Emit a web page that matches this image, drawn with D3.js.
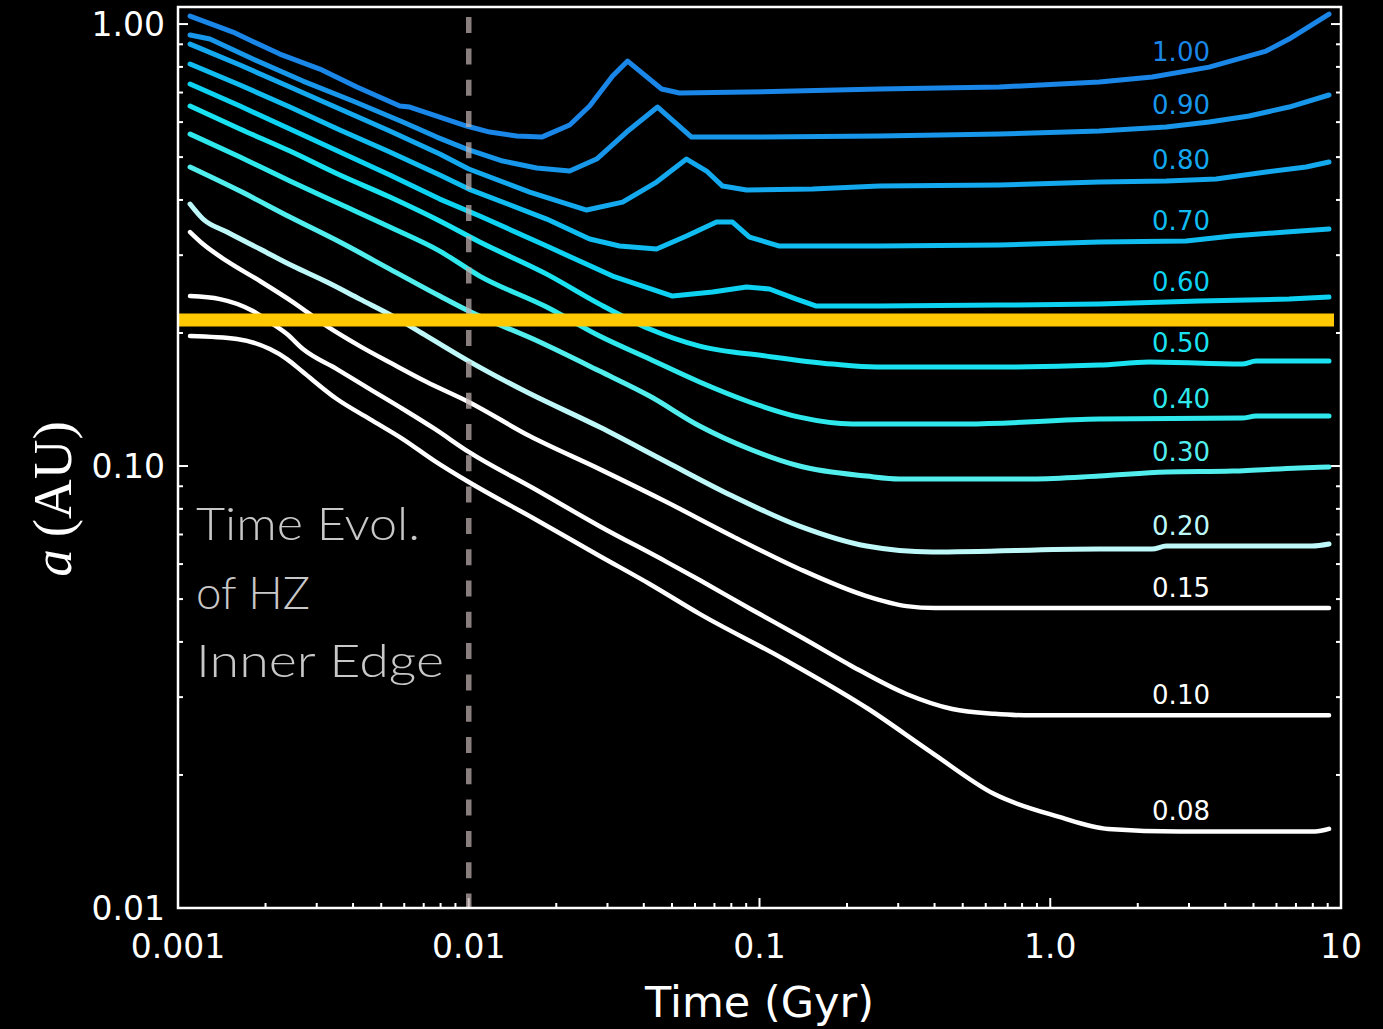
<!DOCTYPE html>
<html>
<head>
<meta charset="utf-8">
<script src="https://cdn.jsdelivr.net/npm/d3@7"></script>
<style>
  html, body { margin: 0; padding: 0; background: #000; }
  svg { display: block; }
</style>
</head>
<body>
<svg id="chart" width="1383" height="1029"></svg>
<script>
// Stellar mass (Msun) of each track, with its line colour
const stellarMasses = ["1.00", "0.90", "0.80", "0.70", "0.60", "0.50", "0.40", "0.30", "0.20", "0.15", "0.10", "0.08"];
const trackColors = ["#1a86e8", "#1796ea", "#14a8ee", "#10bcf0", "#0dd2f2", "#1ae2f0", "#2ee8ec", "#52eeee", "#bef8f8", "#ffffff", "#ffffff", "#ffffff"];

// Inner edge of the habitable zone, a (AU), against time (Gyr): [time, a]
const track100 = [[0.0011,1.0425],[0.001545,0.9592],[0.00224,0.8553],[0.003076,0.7910],[0.004122,0.7203],[0.005794,0.6525],[0.00627,0.6491],[0.00984,0.5879],[0.01181,0.5697],[0.01462,0.5579],[0.01782,0.5550],[0.02224,0.5910],[0.02605,0.6525],[0.03124,0.7627],[0.03519,0.8247],[0.04605,0.7129],[0.05309,0.6982],[0.09023,0.7018],[0.2585,0.7129],[0.6677,0.7203],[1.474,0.7392],[2.242,0.7587],[3.519,0.7990],[5.526,0.8688],[6.627,0.9248],[9.095,1.0535]];
const track090 = [[0.0011,0.9443],[0.001288,0.9248],[0.00181,0.8333],[0.00269,0.7431],[0.003994,0.6697],[0.005934,0.6003],[0.007763,0.5550],[0.00984,0.5214],[0.01309,0.4898],[0.01713,0.4723],[0.02224,0.4650],[0.02754,0.4950],[0.03491,0.5697],[0.04463,0.6491],[0.05838,0.5550],[0.1024,0.5550],[0.2585,0.5579],[0.6677,0.5638],[1.474,0.5727],[2.503,0.5848],[3.519,0.6003],[4.83,0.6194],[6.627,0.6491],[9.095,0.6910]];
const track080 = [[0.0011,0.9010],[0.001634,0.8080],[0.002426,0.7203],[0.003603,0.6424],[0.005352,0.5727],[0.00795,0.5080],[0.01,0.4699],[0.0162,0.4167],[0.02544,0.3795],[0.03382,0.3956],[0.04426,0.4391],[0.05611,0.4950],[0.06575,0.4650],[0.07464,0.4300],[0.09023,0.4211],[0.1521,0.4233],[0.2585,0.4300],[0.6677,0.4323],[1.474,0.4391],[2.503,0.4414],[3.719,0.4460],[5.526,0.4625],[7.581,0.4748],[9.095,0.4873]];
const track070 = [[0.0011,0.8122],[0.001634,0.7278],[0.002426,0.6491],[0.003603,0.5757],[0.005352,0.5133],[0.00795,0.4554],[0.01,0.4233],[0.01854,0.3621],[0.02605,0.3263],[0.03303,0.3146],[0.04426,0.3097],[0.05611,0.3314],[0.07116,0.3565],[0.08076,0.3565],[0.0924,0.3297],[0.1171,0.3146],[0.2585,0.3146],[0.6677,0.3162],[1.474,0.3212],[2.934,0.3228],[4.222,0.3314],[6.471,0.3384],[9.095,0.3437]];
const track060 = [[0.0011,0.7317],[0.001634,0.6525],[0.002426,0.5788],[0.003603,0.5133],[0.005352,0.4554],[0.00795,0.4018],[0.01091,0.3678],[0.01854,0.3146],[0.03124,0.2690],[0.05023,0.2424],[0.06895,0.2475],[0.09023,0.2541],[0.1082,0.2515],[0.134,0.2386],[0.157,0.2301],[0.2585,0.2301],[0.6677,0.2313],[1.474,0.2325],[3.251,0.2362],[6.627,0.2386],[9.095,0.2412]];
const track050 = [[0.0011,0.6525],[0.001634,0.5788],[0.002426,0.5160],[0.003603,0.4554],[0.005352,0.4060],[0.00795,0.3584],[0.01091,0.3212],[0.01854,0.2718],[0.02819,0.2325],[0.04188,0.2042],[0.06222,0.1868],[0.1057,0.1773],[0.1782,0.1701],[0.2525,0.1675],[0.6677,0.1675],[1.474,0.1692],[2.189,0.1719],[4.568,0.1701],[5.104,0.1728],[9.095,0.1728]];
const track040 = [[0.0011,0.5638],[0.001634,0.5001],[0.002426,0.4414],[0.003603,0.3915],[0.005352,0.3473],[0.00795,0.3064],[0.01091,0.2690],[0.01854,0.2289],[0.02819,0.1968],[0.04188,0.1746],[0.06222,0.1549],[0.0924,0.1396],[0.1372,0.1290],[0.2088,0.1245],[0.5144,0.1245],[1.474,0.1277],[4.568,0.1284],[5.104,0.1297],[9.095,0.1297]];
const track030 = [[0.0011,0.4748],[0.001634,0.4189],[0.002426,0.3659],[0.003603,0.3212],[0.005352,0.2790],[0.00795,0.2424],[0.01,0.2242],[0.01754,0.1908],[0.02819,0.1640],[0.04188,0.1440],[0.06222,0.1232],[0.0924,0.1093],[0.1372,0.1000],[0.2333,0.0949],[0.3028,0.0935],[0.8673,0.0935],[1.474,0.0949],[2.503,0.0969],[4.222,0.0974],[7.174,0.0990],[9.095,0.0995]];
const track020 = [[0.0011,0.3915],[0.001219,0.3621],[0.001474,0.3384],[0.001913,0.3097],[0.002484,0.2834],[0.003251,0.2608],[0.004221,0.2386],[0.005481,0.2184],[0.007173,0.1968],[0.01,0.1728],[0.01582,0.1470],[0.02819,0.1225],[0.0479,0.1021],[0.08076,0.0855],[0.1372,0.0731],[0.2333,0.0659],[0.3931,0.0639],[1.474,0.0649],[2.242,0.0649],[2.503,0.0659],[7.949,0.0659],[9.095,0.0666]];
const track015 = [[0.0011,0.3384],[0.001219,0.3179],[0.001474,0.2908],[0.001913,0.2622],[0.002484,0.2350],[0.003251,0.2073],[0.004221,0.1868],[0.005481,0.1701],[0.007173,0.1549],[0.01,0.1396],[0.0162,0.1169],[0.02819,0.0984],[0.0479,0.0829],[0.08076,0.0694],[0.1372,0.0585],[0.2333,0.0508],[0.3201,0.0482],[0.4025,0.0477],[9.095,0.0477]];
const track010 = [[0.0011,0.2424],[0.001394,0.2386],[0.00181,0.2242],[0.00207,0.2117],[0.00237,0.1989],[0.00269,0.1839],[0.003519,0.1657],[0.004568,0.1493],[0.005934,0.1346],[0.007643,0.1213],[0.01,0.1076],[0.01686,0.0887],[0.02819,0.0731],[0.0479,0.0607],[0.06222,0.0552],[0.09314,0.0475],[0.1428,0.0406],[0.2072,0.0353],[0.3201,0.0305],[0.4605,0.0282],[0.6422,0.0275],[0.8142,0.0273],[9.095,0.0273]];
const track008 = [[0.0011,0.1968],[0.001595,0.1938],[0.00207,0.1839],[0.00237,0.1746],[0.00269,0.1632],[0.003519,0.1418],[0.004568,0.1277],[0.005934,0.1151],[0.007643,0.1026],[0.01,0.0920],[0.01686,0.0759],[0.02819,0.0626],[0.04188,0.0541],[0.06222,0.0463],[0.1209,0.0366],[0.237,0.0282],[0.39,0.0225],[0.6422,0.0181],[1.065,0.0161],[1.582,0.0151],[2.797,0.0149],[8.141,0.0149],[9.095,0.0151]];
const tracks = [track100, track090, track080, track070, track060, track050, track040, track030, track020, track015, track010, track008];

// Axis ticks
const timeTicks = [0.001, 0.01, 0.1, 1, 10];
const timeTickLabels = ["0.001", "0.01", "0.1", "1.0", "10"];
const aTicks = [0.01, 0.1, 1];
const aTickLabels = ["0.01", "0.10", "1.00"];

// Marked epoch (Gyr) and present-day inner edge distance (AU)
const markedTime = 0.01;
const hzInnerEdge = 0.214;

// Annotation text
const noteLines = ["Time Evol.", "of HZ", "Inner Edge"];

(function draw() {
  const svg = d3.select("#chart");
  const W = 1383, H = 1029;
  svg.append("rect").attr("width", W).attr("height", H).attr("fill", "#000");

  const plotLeft = 178, plotRight = 1341, plotTop = 7, plotBottom = 908;
  const x = d3.scaleLog().domain([0.001, 10]).range([plotLeft, plotRight]);
  const y = d3.scaleLog().domain([0.01, 1.093]).range([plotBottom, plotTop]);

  const tickFont = "'DejaVu Sans', sans-serif";

  // Minor and major ticks, drawn inward
  const isMajor = v => Math.abs(Math.log10(v) - Math.round(Math.log10(v))) < 1e-9;
  const tickG = svg.append("g").attr("stroke", "#fff").attr("stroke-width", 2);
  x.ticks().forEach(v => {
    const len = isMajor(v) ? 10 : 5;
    tickG.append("line").attr("x1", x(v)).attr("x2", x(v)).attr("y1", plotBottom).attr("y2", plotBottom - len);
  });
  y.ticks().filter(v => v <= 1.093).forEach(v => {
    const len = isMajor(v) ? 10 : 5;
    tickG.append("line").attr("x1", plotLeft).attr("x2", plotLeft + len).attr("y1", y(v)).attr("y2", y(v));
    tickG.append("line").attr("x1", plotRight).attr("x2", plotRight - len).attr("y1", y(v)).attr("y2", y(v));
  });

  // Tick labels
  svg.append("g").selectAll("text").data(timeTicks).join("text")
    .attr("x", d => x(d)).attr("y", 958)
    .attr("text-anchor", "middle")
    .attr("font-family", tickFont).attr("font-size", 33).attr("fill", "#fff")
    .text((d, i) => timeTickLabels[i]);
  svg.append("g").selectAll("text").data(aTicks).join("text")
    .attr("x", 165).attr("y", d => y(d)).attr("dy", "0.36em")
    .attr("text-anchor", "end")
    .attr("font-family", tickFont).attr("font-size", 33).attr("fill", "#fff")
    .text((d, i) => aTickLabels[i]);

  // Axis titles
  svg.append("text")
    .attr("x", (plotLeft + plotRight) / 2).attr("y", 1017)
    .attr("text-anchor", "middle")
    .attr("font-family", tickFont).attr("font-size", 43).attr("fill", "#fff")
    .text("Time (Gyr)");
  const yTitle = svg.append("text")
    .attr("transform", "translate(71,499) rotate(-90)")
    .attr("text-anchor", "middle")
    .attr("font-family", "'Liberation Serif', 'DejaVu Serif', serif").attr("font-size", 55).attr("fill", "#fff");
  yTitle.append("tspan").attr("font-style", "italic").text("a");
  yTitle.append("tspan").attr("dx", 12).text("(AU)");

  // Tracks: sharp polylines for the upper masses, smoothed for the lower ones
  const sharpLine = d3.line().x(d => x(d[0])).y(d => y(d[1]));
  const smoothLine = d3.line().x(d => x(d[0])).y(d => y(d[1])).curve(d3.curveMonotoneX);
  svg.append("g").selectAll("path").data(tracks).join("path")
    .attr("d", (d, i) => i >= 5 ? smoothLine(d) : sharpLine(d))
    .attr("fill", "none")
    .attr("stroke", (d, i) => trackColors[i])
    .attr("stroke-width", (d, i) => i >= 9 ? 4.5 : 5)
    .attr("stroke-linejoin", "round")
    .attr("stroke-linecap", "round");

  // Value of a track at a given time, interpolated in log-log space
  function aAt(track, t) {
    const i = Math.max(1, Math.min(track.length - 1, d3.bisector(d => d[0]).left(track, t)));
    const [t0, a0] = track[i - 1], [t1, a1] = track[i];
    const f = (Math.log10(t) - Math.log10(t0)) / (Math.log10(t1) - Math.log10(t0));
    return Math.pow(10, Math.log10(a0) + f * (Math.log10(a1) - Math.log10(a0)));
  }

  // Mass labels just above each track
  const labelTime = 2.24, labelProbe = 2.8;
  svg.append("g").selectAll("text").data(tracks).join("text")
    .attr("x", x(labelTime))
    .attr("y", d => y(aAt(d, labelProbe)) - 11)
    .attr("font-family", tickFont).attr("font-size", 26)
    .attr("fill", (d, i) => trackColors[i])
    .text((d, i) => stellarMasses[i]);

  // Dashed marker at the chosen epoch
  svg.append("line")
    .attr("x1", x(markedTime)).attr("x2", x(markedTime))
    .attr("y1", y(1.037)).attr("y2", y(0.01))
    .attr("stroke", "rgb(190,176,176)").attr("stroke-opacity", 0.72)
    .attr("stroke-width", 5.5)
    .attr("stroke-dasharray", "16,15.3");

  // Present-day inner edge
  svg.append("line")
    .attr("x1", x(0.001) - 1).attr("x2", x(9.46))
    .attr("y1", y(hzInnerEdge)).attr("y2", y(hzInnerEdge))
    .attr("stroke", "#ffc800").attr("stroke-width", 13);

  // Annotation
  const noteWidths = [224, 114, 248];
  svg.append("g").selectAll("text").data(noteLines).join("text")
    .attr("x", 196).attr("y", (d, i) => 540 + i * 68.5)
    .attr("font-family", "Lato, 'Open Sans', sans-serif").attr("font-weight", 300)
    .attr("font-size", 46).attr("fill", "#c8c8c8")
    .attr("textLength", (d, i) => noteWidths[i])
    .attr("lengthAdjust", "spacingAndGlyphs")
    .text(d => d);

  // Plot frame
  svg.append("rect")
    .attr("x", plotLeft).attr("y", plotTop)
    .attr("width", plotRight - plotLeft).attr("height", plotBottom - plotTop)
    .attr("fill", "none").attr("stroke", "#fff").attr("stroke-width", 2.5);
})();
</script>
</body>
</html>
